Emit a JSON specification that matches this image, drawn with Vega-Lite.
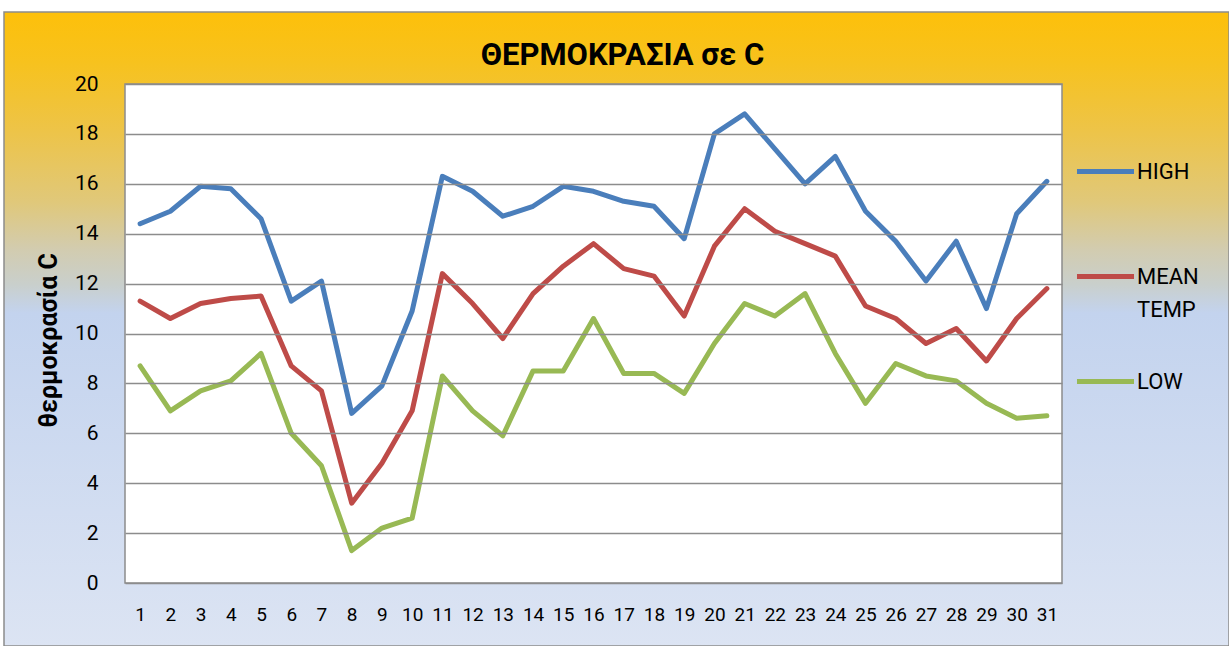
{
  "$schema": "https://vega.github.io/schema/vega-lite/v6.json",
  "width": 1225,
  "height": 634,
  "autosize": {"type": "none"},
  "padding": {"left": 4, "top": 12, "right": 0, "bottom": 0},
  "background": "white",
  "title": {
    "text": "ΘΕΡΜΟΚΡΑΣΙΑ σε  C",
    "fontSize": 31,
    "fontWeight": "bold",
    "font": "Roboto",
    "color": "black",
    "anchor": "middle",
    "offset": -84,
    "baseline": "alphabetic",
    "dx": 6
  },
  "config": {
    "font": "Roboto",
    "view": {
      "fill": {
        "gradient": "linear",
        "x1": 0, "y1": 0, "x2": 0, "y2": 1,
        "stops": [
          {"offset": 0, "color": "#FDC00A"},
          {"offset": 0.08, "color": "#F7C21E"},
          {"offset": 0.19, "color": "#EDC449"},
          {"offset": 0.3, "color": "#E0C87A"},
          {"offset": 0.375, "color": "#D2CCB0"},
          {"offset": 0.43, "color": "#C9CFCC"},
          {"offset": 0.475, "color": "#C3D3EE"},
          {"offset": 1, "color": "#DCE4F3"}
        ]
      },
      "stroke": "#8c8c8c",
      "strokeWidth": 1.5
    }
  },
  "data": {
    "values": [
      {"day": 1, "series": "HIGH", "temp": 14.4},
      {"day": 2, "series": "HIGH", "temp": 14.9},
      {"day": 3, "series": "HIGH", "temp": 15.9},
      {"day": 4, "series": "HIGH", "temp": 15.8},
      {"day": 5, "series": "HIGH", "temp": 14.6},
      {"day": 6, "series": "HIGH", "temp": 11.3},
      {"day": 7, "series": "HIGH", "temp": 12.1},
      {"day": 8, "series": "HIGH", "temp": 6.8},
      {"day": 9, "series": "HIGH", "temp": 7.9},
      {"day": 10, "series": "HIGH", "temp": 10.9},
      {"day": 11, "series": "HIGH", "temp": 16.3},
      {"day": 12, "series": "HIGH", "temp": 15.7},
      {"day": 13, "series": "HIGH", "temp": 14.7},
      {"day": 14, "series": "HIGH", "temp": 15.1},
      {"day": 15, "series": "HIGH", "temp": 15.9},
      {"day": 16, "series": "HIGH", "temp": 15.7},
      {"day": 17, "series": "HIGH", "temp": 15.3},
      {"day": 18, "series": "HIGH", "temp": 15.1},
      {"day": 19, "series": "HIGH", "temp": 13.8},
      {"day": 20, "series": "HIGH", "temp": 18.0},
      {"day": 21, "series": "HIGH", "temp": 18.8},
      {"day": 22, "series": "HIGH", "temp": 17.4},
      {"day": 23, "series": "HIGH", "temp": 16.0},
      {"day": 24, "series": "HIGH", "temp": 17.1},
      {"day": 25, "series": "HIGH", "temp": 14.9},
      {"day": 26, "series": "HIGH", "temp": 13.7},
      {"day": 27, "series": "HIGH", "temp": 12.1},
      {"day": 28, "series": "HIGH", "temp": 13.7},
      {"day": 29, "series": "HIGH", "temp": 11.0},
      {"day": 30, "series": "HIGH", "temp": 14.8},
      {"day": 31, "series": "HIGH", "temp": 16.1},
      {"day": 1, "series": "MEAN TEMP", "temp": 11.3},
      {"day": 2, "series": "MEAN TEMP", "temp": 10.6},
      {"day": 3, "series": "MEAN TEMP", "temp": 11.2},
      {"day": 4, "series": "MEAN TEMP", "temp": 11.4},
      {"day": 5, "series": "MEAN TEMP", "temp": 11.5},
      {"day": 6, "series": "MEAN TEMP", "temp": 8.7},
      {"day": 7, "series": "MEAN TEMP", "temp": 7.7},
      {"day": 8, "series": "MEAN TEMP", "temp": 3.2},
      {"day": 9, "series": "MEAN TEMP", "temp": 4.8},
      {"day": 10, "series": "MEAN TEMP", "temp": 6.9},
      {"day": 11, "series": "MEAN TEMP", "temp": 12.4},
      {"day": 12, "series": "MEAN TEMP", "temp": 11.2},
      {"day": 13, "series": "MEAN TEMP", "temp": 9.8},
      {"day": 14, "series": "MEAN TEMP", "temp": 11.6},
      {"day": 15, "series": "MEAN TEMP", "temp": 12.7},
      {"day": 16, "series": "MEAN TEMP", "temp": 13.6},
      {"day": 17, "series": "MEAN TEMP", "temp": 12.6},
      {"day": 18, "series": "MEAN TEMP", "temp": 12.3},
      {"day": 19, "series": "MEAN TEMP", "temp": 10.7},
      {"day": 20, "series": "MEAN TEMP", "temp": 13.5},
      {"day": 21, "series": "MEAN TEMP", "temp": 15.0},
      {"day": 22, "series": "MEAN TEMP", "temp": 14.1},
      {"day": 23, "series": "MEAN TEMP", "temp": 13.6},
      {"day": 24, "series": "MEAN TEMP", "temp": 13.1},
      {"day": 25, "series": "MEAN TEMP", "temp": 11.1},
      {"day": 26, "series": "MEAN TEMP", "temp": 10.6},
      {"day": 27, "series": "MEAN TEMP", "temp": 9.6},
      {"day": 28, "series": "MEAN TEMP", "temp": 10.2},
      {"day": 29, "series": "MEAN TEMP", "temp": 8.9},
      {"day": 30, "series": "MEAN TEMP", "temp": 10.6},
      {"day": 31, "series": "MEAN TEMP", "temp": 11.8},
      {"day": 1, "series": "LOW", "temp": 8.7},
      {"day": 2, "series": "LOW", "temp": 6.9},
      {"day": 3, "series": "LOW", "temp": 7.7},
      {"day": 4, "series": "LOW", "temp": 8.1},
      {"day": 5, "series": "LOW", "temp": 9.2},
      {"day": 6, "series": "LOW", "temp": 6.0},
      {"day": 7, "series": "LOW", "temp": 4.7},
      {"day": 8, "series": "LOW", "temp": 1.3},
      {"day": 9, "series": "LOW", "temp": 2.2},
      {"day": 10, "series": "LOW", "temp": 2.6},
      {"day": 11, "series": "LOW", "temp": 8.3},
      {"day": 12, "series": "LOW", "temp": 6.9},
      {"day": 13, "series": "LOW", "temp": 5.9},
      {"day": 14, "series": "LOW", "temp": 8.5},
      {"day": 15, "series": "LOW", "temp": 8.5},
      {"day": 16, "series": "LOW", "temp": 10.6},
      {"day": 17, "series": "LOW", "temp": 8.4},
      {"day": 18, "series": "LOW", "temp": 8.4},
      {"day": 19, "series": "LOW", "temp": 7.6},
      {"day": 20, "series": "LOW", "temp": 9.6},
      {"day": 21, "series": "LOW", "temp": 11.2},
      {"day": 22, "series": "LOW", "temp": 10.7},
      {"day": 23, "series": "LOW", "temp": 11.6},
      {"day": 24, "series": "LOW", "temp": 9.2},
      {"day": 25, "series": "LOW", "temp": 7.2},
      {"day": 26, "series": "LOW", "temp": 8.8},
      {"day": 27, "series": "LOW", "temp": 8.3},
      {"day": 28, "series": "LOW", "temp": 8.1},
      {"day": 29, "series": "LOW", "temp": 7.2},
      {"day": 30, "series": "LOW", "temp": 6.6},
      {"day": 31, "series": "LOW", "temp": 6.7}
    ]
  },
  "layer": [
    {
      "data": {"values": [{}]},
      "mark": {"type": "rect", "fill": "white", "stroke": "#8c8c8c", "strokeWidth": 1.5},
      "encoding": {
        "x": {"datum": 0.5, "type": "quantitative"},
        "x2": {"datum": 31.5},
        "y": {"datum": 0, "type": "quantitative"},
        "y2": {"datum": 20}
      }
    },
    {
      "mark": {"type": "line", "strokeWidth": 5, "strokeJoin": "round", "strokeCap": "round", "zindex": 2},
      "encoding": {
        "x": {
          "field": "day",
          "type": "quantitative",
          "scale": {"domain": [0.5, 31.5], "range": [121, 1058], "nice": false, "zero": false},
          "axis": {
            "values": [1,2,3,4,5,6,7,8,9,10,11,12,13,14,15,16,17,18,19,20,21,22,23,24,25,26,27,28,29,30,31],
            "format": "d",
            "title": null,
            "grid": false,
            "domain": false,
            "ticks": false,
            "labelFontSize": 19,
            "labelColor": "black",
            "labelPadding": 22,
            "labelFlush": false,
            "labelOverlap": false,
            "offset": -63
          }
        },
        "y": {
          "field": "temp",
          "type": "quantitative",
          "scale": {"domain": [0, 20], "range": [571, 72], "nice": false, "zero": false},
          "axis": {
            "values": [0,2,4,6,8,10,12,14,16,18,20],
            "title": "θερμοκρασία C",
            "titleFontSize": 25,
            "titleFontWeight": "bold",
            "titleColor": "black",
            "titlePadding": 13,
            "titleY": 328,
            "grid": true,
            "gridColor": "#8c8c8c",
            "gridWidth": 1.5,
            "domain": false,
            "ticks": false,
            "labelFontSize": 21,
            "labelColor": "black",
            "labelPadding": 27,
            "offset": -121,
            "zindex": 1
          }
        },
        "color": {
          "field": "series",
          "type": "nominal",
          "scale": {"domain": ["HIGH", "MEAN TEMP", "LOW"], "range": ["#4A7EBB", "#BE4B48", "#98B954"]},
          "legend": {
            "orient": "none",
            "legendX": 1070,
            "legendY": 128,
            "title": null,
            "padding": 0,
            "symbolType": "stroke",
            "symbolSize": 3250,
            "symbolStrokeWidth": 5,
            "labelFontSize": 22,
            "labelColor": "black",
            "labelOffset": 0,
            "rowPadding": 29,
            "labelExpr": "datum.label == 'MEAN TEMP' ? ['MEAN', 'TEMP'] : [datum.label, ' ']",
            "encode": {"labels": {"update": {"lineHeight": {"value": 33}}}}
          }
        }
      }
    }
  ]
}
